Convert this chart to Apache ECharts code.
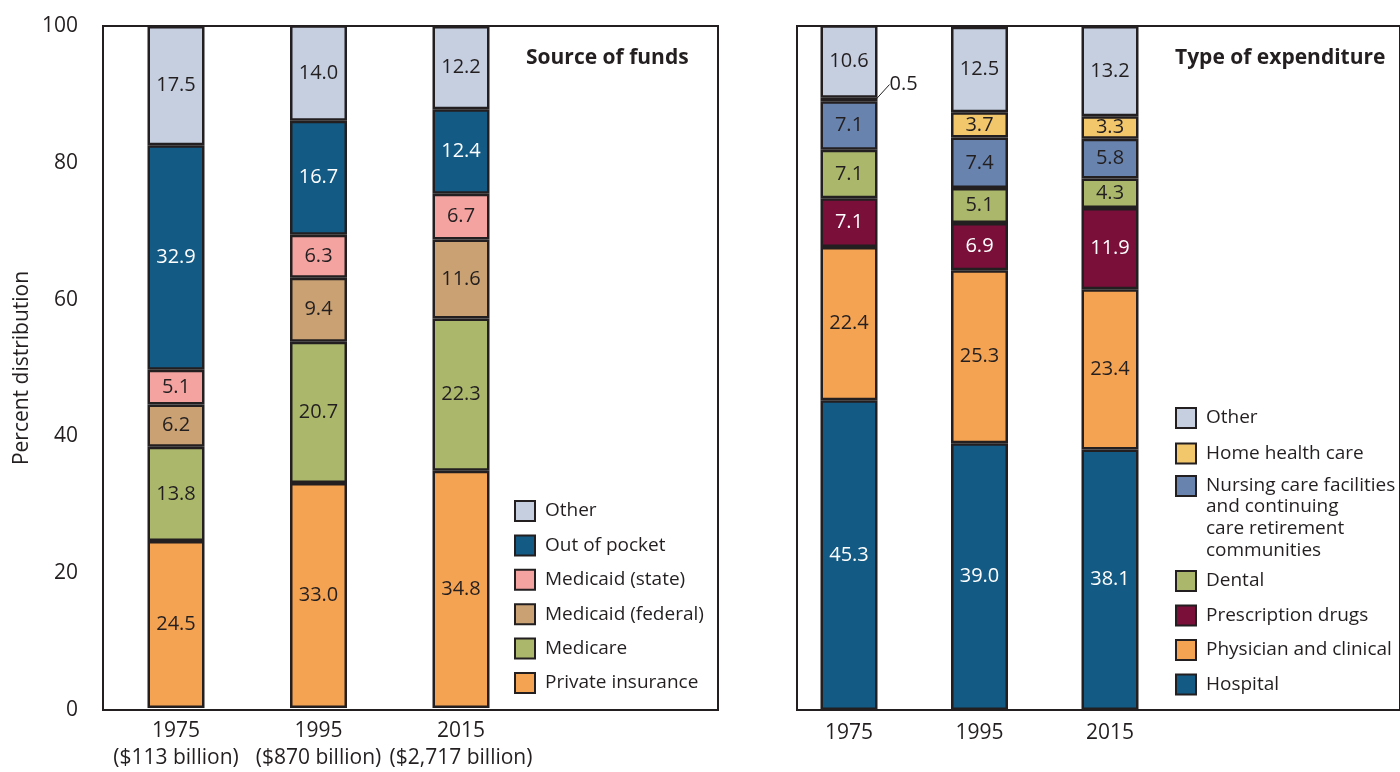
<!DOCTYPE html>
<html>
<head>
<meta charset="utf-8">
<script src="https://cdn.jsdelivr.net/npm/echarts@6/dist/echarts.min.js"></script>
<style>
  html, body { margin: 0; padding: 0; background: #fff; }
  #chart { width: 1400px; height: 772px; }
</style>
</head>
<body>
<div id="chart"></div>
<script>
const fundYears = ["1975\n($113 billion)", "1995\n($870 billion)", "2015\n($2,717 billion)"];
const expYears = ["1975", "1995", "2015"];
const yTicks = [0, 20, 40, 60, 80, 100];

// source of funds, bottom to top
const privateInsurance = [24.5, 33.0, 34.8];
const medicare = [13.8, 20.7, 22.3];
const medicaidFederal = [6.2, 9.4, 11.6];
const medicaidState = [5.1, 6.3, 6.7];
const outOfPocket = [32.9, 16.7, 12.4];
const fundOther = [17.5, 14.0, 12.2];

// type of expenditure, bottom to top
const hospital = [45.3, 39.0, 38.1];
const physician = [22.4, 25.3, 23.4];
const prescription = [7.1, 6.9, 11.9];
const dental = [7.1, 5.1, 4.3];
const nursing = [7.1, 7.4, 5.8];
const homeHealth = [0.5, 3.7, 3.3];
const expOther = [10.6, 12.5, 13.2];

const INK = "#231f20";
const FONT = "'Open Sans', 'Noto Sans', sans-serif";
const C = {
  other: "#c5cfe0",
  blue: "#135a84",
  pink: "#f4a3a1",
  tan: "#c9a173",
  green: "#abb86c",
  orange: "#f4a352",
  yellow: "#f2c76c",
  slate: "#6783ae",
  maroon: "#7a0f3a"
};

const chart = echarts.init(document.getElementById("chart"));

function bar(name, data, color, axis, stack, labelColor) {
  return {
    name: name,
    type: "bar",
    stack: stack,
    xAxisIndex: axis,
    yAxisIndex: axis,
    barWidth: 57,
    data: data,
    itemStyle: { color: color, borderColor: INK, borderWidth: 2.5 },
    label: {
      show: true,
      position: "inside",
      color: labelColor || INK,
      fontSize: 20,
      fontFamily: FONT,
      formatter: (p) => Number(p.value).toFixed(1)
    },
    emphasis: { disabled: true },
    animation: false
  };
}

// the tiny 1975 home health slice gets its label outside, with a leader line
const homeData = homeHealth.map((v, i) =>
  i === 0 ? { value: v, label: { position: "right", distance: 12 } } : v
);
const homeSeries = bar("Home health care", homeData, C.yellow, 3, "exp");
homeSeries.labelLine = { show: true, lineStyle: { color: INK, width: 1 } };
homeSeries.labelLayout = (p) => (p.dataIndex === 0 ? { dy: -15 } : {});

const legendText = { color: INK, fontSize: 19, lineHeight: 20, padding: [0, 0, 0, 5], fontFamily: FONT };
const legendBase = {
  orient: "vertical", left: 1175, padding: 0, itemWidth: 20, itemHeight: 20,
  icon: "rect", selectedMode: false, textStyle: legendText
};

const option = {
  backgroundColor: "#fff",
  textStyle: { fontFamily: FONT },
  title: [
    { text: "Source of funds", left: 521, top: 43,
      textStyle: { fontSize: 21, fontWeight: "bold", color: INK, fontFamily: FONT } },
    { text: "Type of expenditure", left: 1170, top: 43,
      textStyle: { fontSize: 21, fontWeight: "bold", color: INK, fontFamily: FONT } },
    { text: "and continuing\ncare retirement\ncommunities", left: 1206, top: 496, padding: 0,
      textStyle: { fontSize: 19, fontWeight: "normal", lineHeight: 21.7, color: INK, fontFamily: FONT } }
  ],
  grid: [
    { left: 103, top: 26, width: 615, height: 684, show: true, borderColor: INK, borderWidth: 2 },
    { left: 104.75, top: 26, width: 427.5, height: 684 },
    { left: 797, top: 26, width: 620, height: 684, show: true, borderColor: INK, borderWidth: 2 },
    { left: 783.75, top: 26, width: 391.5, height: 684 }
  ],
  xAxis: [
    { gridIndex: 0, type: "value", show: false },
    { gridIndex: 1, type: "category", data: fundYears,
      axisLine: { show: false }, axisTick: { show: false },
      axisLabel: { interval: 0, color: INK, fontSize: 21, lineHeight: 27, margin: 10, fontFamily: FONT } },
    { gridIndex: 2, type: "value", show: false },
    { gridIndex: 3, type: "category", data: expYears,
      axisLine: { show: false }, axisTick: { show: false },
      axisLabel: { interval: 0, color: INK, fontSize: 21, lineHeight: 27, margin: 10, fontFamily: FONT } }
  ],
  yAxis: [
    { gridIndex: 0, type: "value", min: 0, max: 100, interval: 20,
      name: "Percent distribution", nameLocation: "middle", nameGap: 70,
      nameTextStyle: { color: INK, fontSize: 21, fontFamily: FONT },
      axisLine: { show: false }, axisTick: { show: false }, splitLine: { show: false },
      axisLabel: { color: INK, fontSize: 21, margin: 25, fontFamily: FONT,
        formatter: (v) => (yTicks.includes(v) ? String(v) : "") } },
    { gridIndex: 1, type: "value", min: 0, max: 100, show: false, splitLine: { show: false } },
    { gridIndex: 2, type: "value", min: 0, max: 100, show: false, splitLine: { show: false } },
    { gridIndex: 3, type: "value", min: 0, max: 100, show: false, splitLine: { show: false } }
  ],
  legend: [
    Object.assign({}, legendBase, { left: 514, top: 500, itemGap: 12.4,
      data: ["Other", "Out of pocket", "Medicaid (state)", "Medicaid (federal)", "Medicare", "Private insurance"] }),
    Object.assign({}, legendBase, { top: 407, itemGap: 13.5, data: ["Other", "Home health care"] }),
    Object.assign({}, legendBase, { top: 475,
      formatter: () => "Nursing care facilities", data: ["Nursing"] }),
    Object.assign({}, legendBase, { top: 570, itemGap: 12.5,
      data: ["Dental", "Prescription drugs", "Physician and clinical", "Hospital"] })
  ],
  series: [
    bar("Private insurance", privateInsurance, C.orange, 1, "fund"),
    bar("Medicare", medicare, C.green, 1, "fund"),
    bar("Medicaid (federal)", medicaidFederal, C.tan, 1, "fund"),
    bar("Medicaid (state)", medicaidState, C.pink, 1, "fund"),
    bar("Out of pocket", outOfPocket, C.blue, 1, "fund", "#fff"),
    bar("Other", fundOther, C.other, 1, "fund"),

    bar("Hospital", hospital, C.blue, 3, "exp", "#fff"),
    bar("Physician and clinical", physician, C.orange, 3, "exp"),
    bar("Prescription drugs", prescription, C.maroon, 3, "exp", "#fff"),
    bar("Dental", dental, C.green, 3, "exp"),
    bar("Nursing", nursing, C.slate, 3, "exp"),
    homeSeries,
    bar("Other", expOther, C.other, 3, "exp")
  ]
};

chart.setOption(option);
</script>
</body>
</html>
